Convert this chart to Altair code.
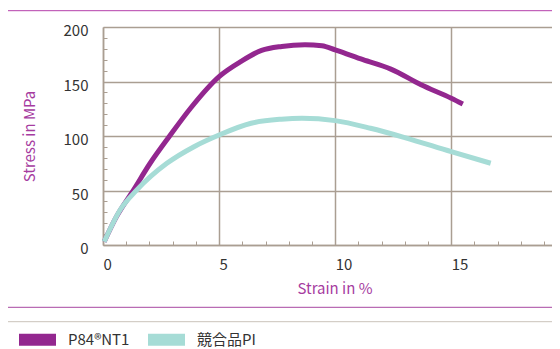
import altair as alt
import pandas as pd

# ---- data ----
p84_strain = [0.05, 0.58, 1.3, 2.03, 2.87, 3.77, 5.0, 5.95, 6.83, 7.7, 8.7, 9.43, 10.0, 11.2, 12.4, 13.7, 15.0, 15.5]
p84_stress = [3, 26, 50, 75, 100, 125.5, 154.5, 168.5, 178.5, 182.2, 183.7, 182.8, 179, 170, 161.4, 147, 134.7, 129.4]

comp_strain = [0.05, 0.73, 1.45, 2.75, 3.92, 5.0, 6.38, 7.68, 8.57, 10.0, 11.52, 12.96, 15.0, 16.7]
comp_stress = [3, 31.9, 50.3, 74.9, 90.2, 100.9, 111.7, 115.4, 116.3, 114.1, 107.1, 98.8, 85.6, 75]

series_names = ["P84®NT1", "競合品PI"]
series_colors = ["#93278f", "#a6dcd6"]

x_major = [0, 5, 10, 15]
x_minor = list(range(1, 20))
y_major = [0, 50, 100, 150, 200]
y_minor = list(range(10, 200, 10))

rows = []
for s, v in zip(p84_strain, p84_stress):
    rows.append({"strain": s, "stress": v, "series": series_names[0]})
for s, v in zip(comp_strain, comp_stress):
    rows.append({"strain": s, "stress": v, "series": series_names[1]})
df = pd.DataFrame(rows)

FONT = "Noto Sans CJK JP"
GRID = "#aa9e92"
TITLE_C = "#a63c9f"
W, H = 449, 218

x_scale = alt.Scale(domain=[0, 19.34], nice=False, zero=False)
y_scale = alt.Scale(domain=[0, 200], nice=False)

minor = alt.Chart(df).mark_line(opacity=0).encode(
    x=alt.X("strain:Q", scale=x_scale,
            axis=alt.Axis(orient="top", offset=-H, values=x_minor, labels=False, grid=False,
                          domain=False, ticks=True, tickSize=4, tickColor=GRID, tickWidth=1,
                          title=None)),
    y=alt.Y("stress:Q", scale=y_scale,
            axis=alt.Axis(orient="right", offset=-W, values=y_minor, labels=False, grid=False,
                          domain=False, ticks=True, tickSize=4, tickColor=GRID, tickWidth=1,
                          title=None)),
    detail="series:N",
)

main = alt.Chart(df).mark_line(strokeWidth=5, interpolate="monotone", strokeCap="butt").encode(
    x=alt.X("strain:Q", scale=x_scale,
            axis=alt.Axis(values=x_major, grid=True, gridColor=GRID, gridWidth=1.5,
                          domainColor=GRID, domainWidth=1.5, ticks=False,
                          labelAlign="left", labelFlush=False, labelPadding=12,
                          labelFontSize=15, labelColor="#333333", labelFont=FONT,
                          title="Strain in %", titleColor=TITLE_C, titleFontSize=15,
                          titleFontWeight="normal", titleFont=FONT,
                          titleX=231.5, titleY=43, titleBaseline="middle", titleAlign="center")),
    y=alt.Y("stress:Q", scale=y_scale,
            axis=alt.Axis(values=y_major, grid=True, gridColor=GRID, gridWidth=1.5,
                          domainColor=GRID, domainWidth=1.5, ticks=False,
                          labelPadding=15, labelOffset=3.5, labelFontSize=15,
                          labelColor="#333333", labelFont=FONT,
                          title="Stress in MPa", titleColor=TITLE_C, titleFontSize=15,
                          titleFontWeight="normal", titleFont=FONT, titleAngle=-90,
                          titleX=-74, titleY=109, titleBaseline="middle", titleAlign="center")),
    color=alt.Color("series:N", scale=alt.Scale(domain=series_names, range=series_colors),
                    legend=alt.Legend(title=None, orient="none", direction="horizontal",
                                      legendX=-90, legendY=288, symbolType="stroke",
                                      symbolSize=1369, symbolStrokeWidth=12,
                                      labelFontSize=15, labelColor="#333333", labelFont=FONT,
                                      labelOffset=6, columnPadding=-6, padding=0)),
)

dummy = pd.DataFrame({"d": [0]})
top_rule = alt.Chart(dummy).mark_rule(color="#b43fab", strokeWidth=1).encode(
    x=alt.value(-95), x2=alt.value(W), y=alt.value(-16.3))
mid_rule = alt.Chart(dummy).mark_rule(color="#b96cb4", strokeWidth=1.3).encode(
    x=alt.value(-95), x2=alt.value(W), y=alt.value(280.3))
gray_rule = alt.Chart(dummy).mark_rule(color="#cbc3bb", strokeWidth=1).encode(
    x=alt.value(-96), x2=alt.value(W), y=alt.value(294.7))

chart = alt.layer(minor, main, top_rule, mid_rule, gray_rule).resolve_axis(
    x="independent", y="independent"
).properties(
    width=W, height=H, autosize="none",
    padding={"left": 95, "top": 19, "right": 0, "bottom": 104},
).configure(font=FONT).configure_view(strokeWidth=0)

chart.save("out.html", embed_options={"renderer": "svg", "actions": False})
